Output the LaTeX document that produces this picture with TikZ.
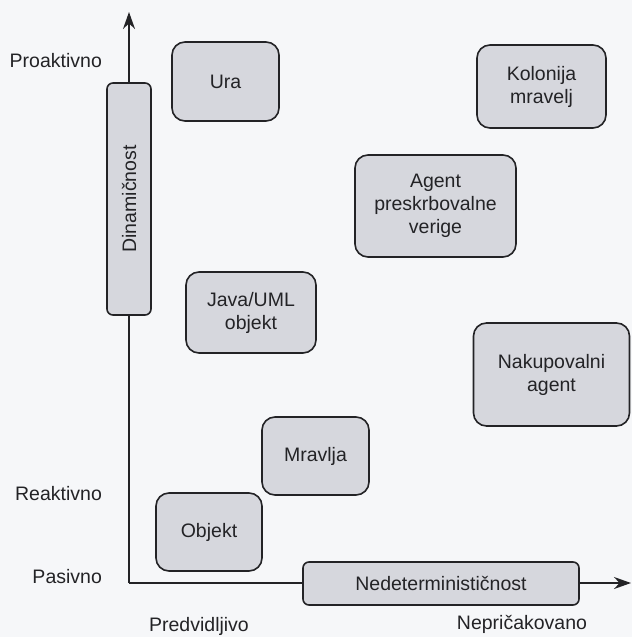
\documentclass[tikz,border=0pt]{standalone}
\usepackage{fontspec}
\setmainfont{Liberation Sans}
\usetikzlibrary{arrows.meta, positioning}
\definecolor{boxfill}{RGB}{214,215,221}
\definecolor{ink}{RGB}{35,35,38}
\definecolor{paper}{RGB}{246,247,249}

\begin{document}
\begin{tikzpicture}[x=1pt, y=-1pt, color=ink, line width=1.6pt,
  >={Stealth[length=17pt, width=12pt]},
  every node/.style={font=\fontsize{19.5}{23}\selectfont},
  item/.style={draw, fill=boxfill, rounded corners=13pt, align=center, inner sep=0pt},
  axisbox/.style={draw, fill=boxfill, rounded corners=6pt, inner sep=0pt},
  lbl/.style={anchor=base east}]
  \fill[paper] (0,0) rectangle (632,637);
  \useasboundingbox (0,0) rectangle (632,637);

  \coordinate (O) at (129,583);
  \coordinate (ytop) at (129,12);
  \coordinate (xend) at (631,583);
  \draw[->] (O) -- (ytop);
  \draw[->] (O) -- (xend);

  \node[axisbox, rotate=90, minimum width=232pt, minimum height=44pt] (dyn) at (129,199) {Dinamičnost};
  \node[axisbox, minimum width=276pt, minimum height=43pt] (ndet) at (441,583.5) {Nedeterminističnost};

  \node[item, minimum width=107pt, minimum height=79pt] (ura) at (225.5,81.5) {Ura};
  \node[item, minimum width=129pt, minimum height=83pt] (kol) at (541.5,86.5) {Kolonija\\mravelj};
  \node[item, minimum width=161pt, minimum height=102pt] (agent) at (435.5,206) {Agent\\preskrbovalne\\verige};
  \node[item, minimum width=130pt, minimum height=81pt] (java) at (251,312.5) {Java/UML\\objekt};
  \node[item, minimum width=156pt, minimum height=103pt] (nak) at (551.5,374.5) {Nakupovalni\\agent};
  \node[item, minimum width=107pt, minimum height=78pt] (mrav) at (315.5,456) {Mravlja};
  \node[item, minimum width=106pt, minimum height=78pt] (obj) at (209,532) {Objekt};

  \node[lbl] (pro) at (106,67) {Proaktivno};
  \node[lbl] (rea) at (106,500) {Reaktivno};
  \node[lbl] (pas) at (106,583) {Pasivno};
  \node[anchor=base] (pred) at (199,631) {Predvidljivo};
  \node[anchor=base] (nepr) at (522,629) {Nepričakovano};
\end{tikzpicture}
\end{document}
